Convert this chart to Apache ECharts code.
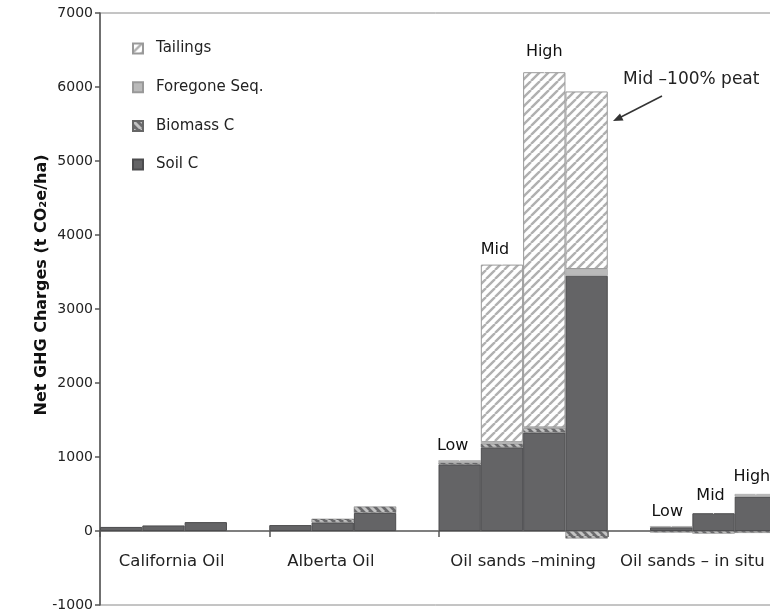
<!DOCTYPE html>
<html>
<head>
<meta charset="utf-8">
<script src="https://cdn.jsdelivr.net/npm/echarts@6/dist/echarts.min.js"></script>
<style>
  html, body { margin: 0; padding: 0; background: #fff; }
  #main { width: 770px; height: 612px; }
</style>
</head>
<body>
<div id="main"></div>
<script>
// one slot per bar, 4 slots per group
const slots = ['ca1', 'ca2', 'ca3', 'ca4', 'ab1', 'ab2', 'ab3', 'ab4',
  'osLow', 'osMid', 'osHigh', 'osPeat', 'is0', 'isLow', 'isMid', 'isHigh'];
const groups = ['California Oil', 'Alberta Oil', 'Oil sands \u2013mining', 'Oil sands \u2013 in situ'];
const tags = ['', '', '', '', '', '', '', '', 'Low', 'Mid', 'High', '', '', 'Low', 'Mid', 'High'];

const soilC = [55, 75, 120, 0, 80, 115, 245, 0, 900, 1130, 1330, 3450, 0, 50, 240, 465];
const biomassC = [0, 0, 0, 0, 0, 50, 85, 0, 25, 50, 60, -100, 0, -20, -35, -25];
const foregoneSeq = [0, 0, 0, 0, 0, 0, 0, 0, 30, 20, 10, 90, 0, 15, 0, 35];
const tailings = [0, 0, 0, 0, 0, 0, 0, 0, 0, 2400, 4800, 2400, 0, 0, 0, 0];

// label nudges (px) for the tags, and for the group labels
const tagNudge = { 8: [-7, 0], 9: [-7, 0], 10: [0, -6], 13: [-4, 0], 14: [-3, -3], 15: [-4, -3] };
const groupPadRight = [26, 46, 0, 0];

const FONT = 'DejaVu Sans';

function hatch(bg, fg, size, lw, dir) {
  const c = document.createElement('canvas');
  c.width = c.height = size;
  const ctx = c.getContext('2d');
  ctx.fillStyle = bg;
  ctx.fillRect(0, 0, size, size);
  ctx.strokeStyle = fg;
  ctx.lineWidth = lw;
  ctx.beginPath();
  for (let k = -1; k <= 1; k++) {
    if (dir === '/') {
      ctx.moveTo(k * size, size);
      ctx.lineTo(k * size + size, 0);
    } else {
      ctx.moveTo(k * size, 0);
      ctx.lineTo(k * size + size, size);
    }
  }
  ctx.stroke();
  return { image: c, repeat: 'repeat' };
}

const blank = (arr) => arr.map(v => (v === 0 ? '-' : v));

const tops = slots.map((s, i) =>
  [soilC[i], biomassC[i], foregoneSeq[i], tailings[i]].filter(v => v > 0).reduce((a, b) => a + b, 0));

const tagPoints = [];
tags.forEach((t, i) => {
  if (t) tagPoints.push({ name: t, value: [i, tops[i]], label: { offset: tagNudge[i] || [0, 0] } });
});

const barBase = {
  type: 'bar',
  stack: 'ghg',
  xAxisIndex: 0,
  barWidth: '100%',
  barCategoryGap: '0%'
};

const chart = echarts.init(document.getElementById('main'));

chart.setOption({
  animation: false,
  textStyle: { fontFamily: FONT },
  grid: {
    left: 100, top: 13, width: 677, bottom: 7,
    outerBoundsMode: 'none',
    show: true, borderColor: '#8a8a8a', borderWidth: 1
  },
  legend: {
    orient: 'vertical',
    left: 127,
    top: 36,
    icon: 'rect',
    itemWidth: 10,
    itemHeight: 10,
    itemGap: 23.7,
    data: ['Tailings', 'Foregone Seq.', 'Biomass C', 'Soil C'],
    textStyle: { fontFamily: FONT, fontSize: 15, color: '#222', padding: [0, 0, 0, 8] }
  },
  xAxis: [
    {
      // bar slots; its line sits on zero, ticks only at group boundaries
      type: 'category',
      data: slots,
      position: 'bottom',
      axisLine: { onZero: true, lineStyle: { color: '#555', width: 1.5 } },
      axisTick: {
        show: true, length: 6,
        interval: (i) => i % 4 === 0,
        lineStyle: { color: '#555', width: 1.5 }
      },
      axisLabel: { show: false }
    },
    {
      // group names, placed just under the zero line
      type: 'category',
      data: groups.map((g, i) => ({
        value: g,
        textStyle: { padding: [0, groupPadRight[i], 0, 0] }
      })),
      position: 'bottom',
      axisLine: { show: false, onZero: false },
      axisTick: { show: false },
      axisLabel: { interval: 0, fontFamily: FONT, fontSize: 16.5, color: '#222', margin: -52 }
    }
  ],
  yAxis: {
    type: 'value',
    min: -1000,
    max: 7000,
    interval: 1000,
    splitLine: { show: false },
    axisLine: { show: true, lineStyle: { color: '#555', width: 1.5 } },
    axisTick: { show: true, length: 5, lineStyle: { color: '#555', width: 1.5 } },
    axisLabel: { fontFamily: FONT, fontSize: 14, color: '#222', margin: 7, formatter: v => String(v) }
  },
  series: [
    Object.assign({}, barBase, {
      name: 'Soil C',
      data: blank(soilC),
      itemStyle: { color: '#646466', borderColor: '#4c4c4e', borderWidth: 1 }
    }),
    Object.assign({}, barBase, {
      name: 'Biomass C',
      data: blank(biomassC),
      itemStyle: { color: hatch('#6a6a6c', '#c4c4c4', 8, 3, '\\'), borderColor: '#666', borderWidth: 0.5 }
    }),
    Object.assign({}, barBase, {
      name: 'Foregone Seq.',
      data: blank(foregoneSeq),
      itemStyle: { color: '#bababa', borderColor: '#999', borderWidth: 0.5 }
    }),
    Object.assign({}, barBase, {
      name: 'Tailings',
      data: blank(tailings),
      itemStyle: { color: hatch('#ffffff', '#b0b0b0', 9, 2.4, '/'), borderColor: '#999', borderWidth: 1 }
    }),
    {
      type: 'scatter',
      xAxisIndex: 0,
      symbolSize: 1,
      itemStyle: { color: '#fff', opacity: 1 },
      data: tagPoints,
      label: {
        show: true,
        position: 'top',
        distance: 6,
        formatter: '{b}',
        fontFamily: FONT,
        fontSize: 16,
        color: '#111'
      },
      silent: true
    }
  ],
  graphic: [
    {
      type: 'text',
      x: 42,
      y: 285,
      rotation: Math.PI / 2,
      style: {
        text: 'Net GHG Charges (t CO\u2082e/ha)',
        font: 'bold 16px ' + FONT,
        fill: '#111',
        align: 'center',
        verticalAlign: 'middle'
      }
    },
    {
      type: 'text',
      x: 623,
      y: 80,
      style: {
        text: 'Mid \u2013100% peat',
        font: '17px ' + FONT,
        fill: '#222',
        verticalAlign: 'middle'
      }
    },
    {
      type: 'polyline',
      shape: { points: [[662, 96], [619, 118]] },
      style: { stroke: '#333', lineWidth: 1.5, fill: null }
    },
    {
      type: 'polygon',
      shape: { points: [[613, 121], [620, 113.5], [623.5, 120.5]] },
      style: { fill: '#333' }
    }
  ]
});
</script>
</body>
</html>
